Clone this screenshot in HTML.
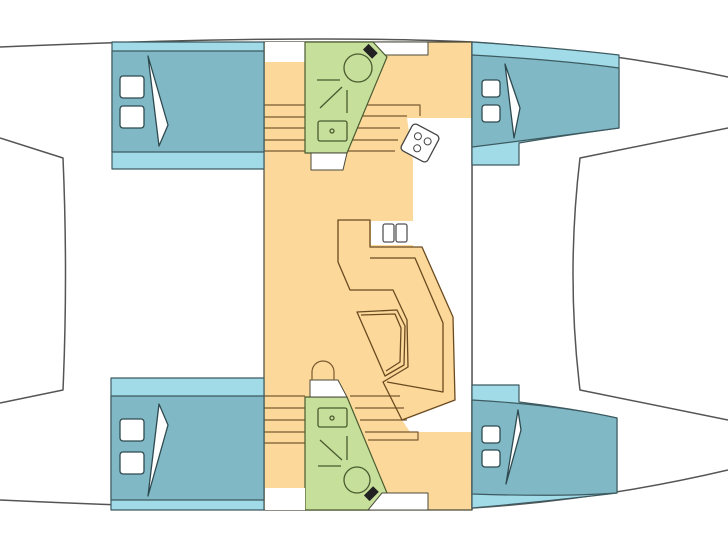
<!DOCTYPE html>
<html><head><style>html,body{margin:0;padding:0;background:#fff}svg{display:block}</style></head><body>
<svg width="728" height="546" viewBox="0 0 728 546" xmlns="http://www.w3.org/2000/svg" stroke-linejoin="round">
<g fill="none" stroke="#555" stroke-width="1.5">
<path d="M0,47 Q300,34 472,42 Q600,50 728,77"/>
<path d="M0,500 Q300,514 472,508 Q600,500 728,470"/>
<path d="M0,138 L63,158 Q68,275 63,390 L0,403"/>
<path d="M728,128 L580,158 Q566,275 580,390 L728,420"/>
</g>
<!-- central salon -->
<rect x="264" y="42" width="208" height="468" fill="#fcd99a" stroke="#4a4a3a" stroke-width="1.2"/>
<path d="M407,118 L472,118 L472,432 L410,432 L402,420 L455,400 L453,317 L422,247 L413,247 L413,160 Z" fill="#fff"/>
<line x1="472" y1="42" x2="472" y2="510" stroke="#555" stroke-width="1.5"/>
<!-- white spots -->
<rect x="265" y="42" width="40" height="20" fill="#fff"/>
<polygon points="373,42 428,42 428,55 380,55" fill="#fff" stroke="#4a4a3a" stroke-width="1"/>
<!-- stair lines top -->
<g stroke="#7a5a30" stroke-width="1.2">
<line x1="264" y1="105" x2="305" y2="105"/><line x1="264" y1="117" x2="305" y2="117"/><line x1="264" y1="128" x2="305" y2="128"/><line x1="264" y1="140" x2="305" y2="140"/><line x1="264" y1="151" x2="305" y2="151"/>
<polyline points="360,105 420,105 420,116" fill="none"/><line x1="356" y1="116" x2="407" y2="116"/><line x1="352" y1="128" x2="400" y2="128"/><line x1="350" y1="140" x2="398" y2="140"/><line x1="347" y1="151" x2="395" y2="151"/>
<line x1="264" y1="420" x2="305" y2="420"/><line x1="264" y1="408" x2="305" y2="408"/><line x1="264" y1="396" x2="305" y2="396"/><line x1="264" y1="432" x2="305" y2="432"/><line x1="264" y1="443" x2="305" y2="443"/>
<line x1="350" y1="396" x2="400" y2="396"/><line x1="355" y1="408" x2="404" y2="408"/><line x1="360" y1="420" x2="407" y2="420"/><polyline points="365,432 418,432 418,440 368,440" fill="none"/>
</g>
<!-- top green head -->
<polygon points="305,42 373,42 387,57 347,153 305,153" fill="#c6df9a" stroke="#4a5a30" stroke-width="1.2"/>
<polygon points="311,153 347,153 343,170 311,170" fill="#fff" stroke="#4a4a3a" stroke-width="1"/>
<circle cx="358" cy="68" r="14" fill="none" stroke="#4a5a30" stroke-width="1.3"/>
<rect x="364" y="47" width="13" height="8" fill="#222" transform="rotate(45 370 51)"/>
<g stroke="#4a5a30" stroke-width="1.3" fill="none"><path d="M317,80 L340,80"/><path d="M320,108 L342,87"/><path d="M347,90 L347,113"/><rect x="318" y="121" width="29" height="20" rx="2"/><circle cx="332" cy="131" r="2"/></g>
<!-- stove -->
<g transform="rotate(28 420 143)"><rect x="405" y="128" width="30" height="30" rx="4" fill="#fff" stroke="#444" stroke-width="1.3"/><circle cx="415" cy="138" r="3.5" fill="none" stroke="#444"/><circle cx="426" cy="138" r="3.5" fill="none" stroke="#444"/><circle cx="420" cy="149" r="3.5" fill="none" stroke="#444"/></g>
<!-- bottom green head -->
<polygon points="305,397 347,397 387,493 370,510 305,510" fill="#c6df9a" stroke="#4a5a30" stroke-width="1.2"/>
<polygon points="310,380 338,380 347,397 310,397" fill="#fff" stroke="#4a4a3a" stroke-width="1"/>
<path d="M312,380 L312,372 A11,11 0 0 1 334,372 L334,380" fill="none" stroke="#7a5a30" stroke-width="1.2"/>
<rect x="265" y="488" width="40" height="22" fill="#fff"/>
<polygon points="382,493 428,493 428,510 368,510" fill="#fff" stroke="#4a4a3a" stroke-width="1"/>
<circle cx="357" cy="480" r="13" fill="none" stroke="#4a5a30" stroke-width="1.3"/>
<rect x="365" y="490" width="13" height="8" fill="#222" transform="rotate(-45 371 494)"/>
<g stroke="#4a5a30" stroke-width="1.3" fill="none"><path d="M318,466 L341,466"/><path d="M320,440 L342,460"/><path d="M347,436 L347,460"/><rect x="318" y="408" width="29" height="19" rx="2"/><circle cx="332" cy="418" r="2"/></g>
<!-- settee -->
<g fill="none" stroke="#6a4a20" stroke-width="1.3">
<path d="M338,220 L370,220 L370,247 L422,247 L453,317 L455,400 L402,420 L383,382 L408,367 L407,320 L393,290 L350,290 L338,262 Z"/>
<path d="M370,258 L415,258 L443,323 L443,392 L387,382"/>
<path d="M357,312 L397,310 L405,326 L404,365 L385,376 Z"/>
<path d="M361,315 L395,314 L401,328 L400,362 L386,371"/>
</g>
<rect x="371" y="221" width="42" height="24" fill="#fff"/>
<rect x="383" y="224" width="11" height="18" rx="2" fill="#fff" stroke="#555" stroke-width="1.3"/>
<rect x="396" y="224" width="11" height="18" rx="2" fill="#fff" stroke="#555" stroke-width="1.3"/>
<!-- left cabins -->
<g stroke="#3d5a60" stroke-width="1.2">
<rect x="112" y="42" width="152" height="127" fill="#a2dbe8"/>
<rect x="112" y="51" width="152" height="101" fill="#80b9c5"/>
<rect x="111" y="378" width="153" height="132" fill="#a2dbe8"/>
<rect x="111" y="396" width="153" height="104" fill="#80b9c5"/>
<!-- right cabins -->
<path d="M472,42 Q560,48 619,55 L619,128 Q560,136 519,143 L519,165 L472,165 Z" fill="#a2dbe8"/>
<path d="M472,55 Q560,60 619,68 L619,128 Q560,136 472,147 Z" fill="#80b9c5"/>
<path d="M472,385 L519,385 L519,402 Q570,408 617,418 L617,493 Q560,500 472,508 Z" fill="#a2dbe8"/>
<path d="M472,400 Q560,405 617,418 L617,493 Q560,497 472,494 Z" fill="#80b9c5"/>
</g>
<!-- pillows & sheets -->
<g fill="#fff" stroke="#2e4a50" stroke-width="1.3">
<rect x="120" y="76" width="24" height="22" rx="3"/><rect x="120" y="106" width="24" height="22" rx="3"/>
<rect x="120" y="419" width="24" height="22" rx="3"/><rect x="120" y="452" width="24" height="22" rx="3"/>
<rect x="482" y="80" width="18" height="17" rx="3"/><rect x="482" y="105" width="18" height="17" rx="3"/>
<rect x="482" y="426" width="18" height="17" rx="3"/><rect x="482" y="450" width="18" height="17" rx="3"/>
<path d="M148,56 L168,125 L159,146 Z"/>
<path d="M159,404 L168,425 L148,496 Z"/>
<path d="M505,64 L520,108 L514,138 Z"/>
<path d="M518,410 L521,430 L506,484 Z"/>
</g>
</svg>
</body></html>
